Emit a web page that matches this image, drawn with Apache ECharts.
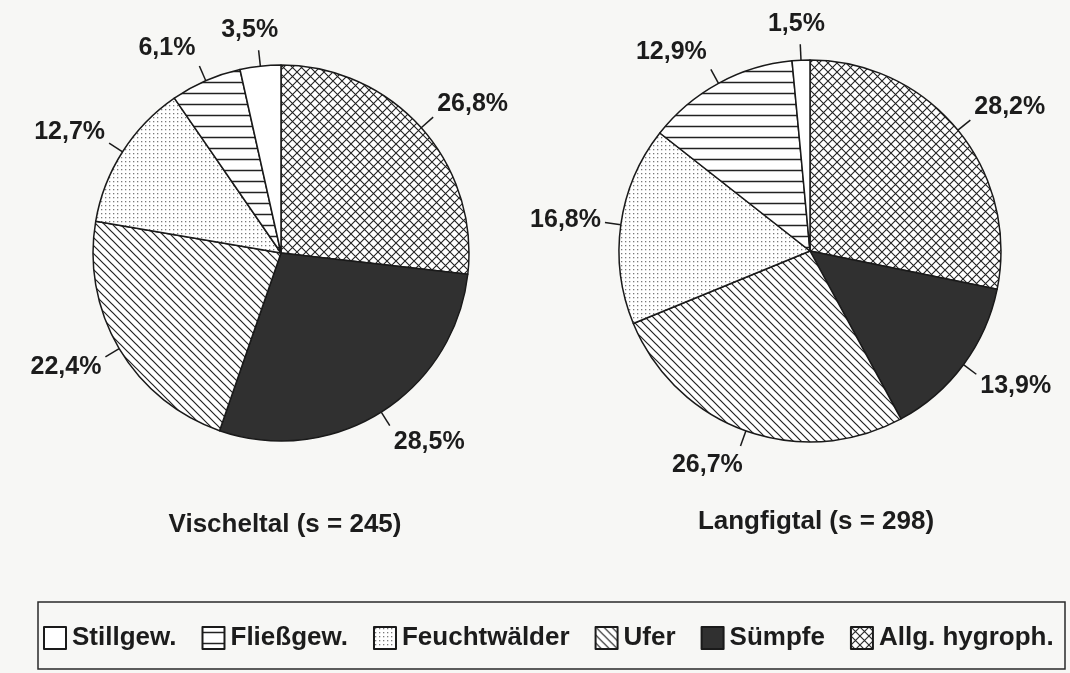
<!DOCTYPE html>
<html>
<head>
<meta charset="utf-8">
<script src="https://cdn.jsdelivr.net/npm/echarts@6/dist/echarts.min.js"></script>
<style>
  html, body { margin: 0; padding: 0; background: #f7f7f5; }
  #main { width: 1070px; height: 673px; }
</style>
</head>
<body>
<div id="main"></div>
<script>
// slices, clockwise from 12 o'clock
var categories = ['Allg. hygroph.', 'Sümpfe', 'Ufer', 'Feuchtwälder', 'Fließgew.', 'Stillgew.'];
var vischeltal = [26.8, 28.5, 22.4, 12.7, 6.1, 3.5];
var langfigtal = [28.2, 13.9, 26.7, 16.8, 12.9, 1.5];
var titles = ['Vischeltal (s = 245)', 'Langfigtal (s = 298)'];
var legendOrder = ['Stillgew.', 'Fließgew.', 'Feuchtwälder', 'Ufer', 'Sümpfe', 'Allg. hygroph.'];

var FONT = '"Liberation Sans", Arial, Helvetica, sans-serif';
var INK = '#1c1c1c';

// hatch fills drawn on small canvases
function tile(w, h, draw) {
  var c = document.createElement('canvas');
  c.width = w; c.height = h;
  var ctx = c.getContext('2d');
  ctx.fillStyle = '#ffffff';
  ctx.fillRect(0, 0, w, h);
  draw(ctx);
  return { image: c, repeat: 'repeat' };
}

var fills = {
  'Allg. hygroph.': tile(9, 9, function (ctx) {
    ctx.strokeStyle = '#222'; ctx.lineWidth = 1.1;
    ctx.beginPath();
    ctx.moveTo(0, 0); ctx.lineTo(9, 9);
    ctx.moveTo(9, 0); ctx.lineTo(0, 9);
    ctx.stroke();
  }),
  'Sümpfe': '#303030',
  'Ufer': tile(8, 8, function (ctx) {
    ctx.strokeStyle = '#222'; ctx.lineWidth = 1.2;
    ctx.beginPath();
    ctx.moveTo(-1, -1); ctx.lineTo(9, 9);
    ctx.moveTo(-1, 7); ctx.lineTo(1, 9);
    ctx.moveTo(7, -1); ctx.lineTo(9, 1);
    ctx.stroke();
  }),
  'Feuchtwälder': tile(4, 4, function (ctx) {
    ctx.fillStyle = '#7a7a7a';
    ctx.fillRect(1, 1, 1.3, 1.3);
  }),
  'Fließgew.': tile(10, 11, function (ctx) {
    ctx.strokeStyle = '#222'; ctx.lineWidth = 1.5;
    ctx.beginPath();
    ctx.moveTo(0, 5.5); ctx.lineTo(10, 5.5);
    ctx.stroke();
  }),
  'Stillgew.': '#ffffff'
};

function fmt(v) {
  return v.toFixed(1).replace('.', ',') + '%';
}

// put each label beyond the end of its radial leader line
function placeLabel(p) {
  var pts = p.labelLinePoints;
  if (!pts) return {};
  var a = pts[0], b = pts[1];
  var dx = b[0] - a[0], dy = b[1] - a[1];
  var len = Math.sqrt(dx * dx + dy * dy) || 1;
  dx /= len; dy /= len;
  var w = p.labelRect.width;
  var kx = Math.max(-1, Math.min(1, dx * 2.5));
  return {
    x: b[0] + kx * (w / 2 + 4),
    y: b[1] + dy * 20,
    align: 'center',
    verticalAlign: 'middle',
    labelLinePoints: pts
  };
}

function pieSeries(values, center, radius) {
  return {
    type: 'pie',
    center: center,
    radius: radius,
    startAngle: 90,
    clockwise: true,
    avoidLabelOverlap: false,
    silent: true,
    animation: false,
    itemStyle: { borderColor: '#1a1a1a', borderWidth: 1.5 },
    label: {
      show: true,
      position: 'outside',
      formatter: function (p) { return fmt(p.value); },
      fontFamily: FONT,
      fontWeight: 'bold',
      fontSize: 25,
      color: INK
    },
    labelLine: {
      show: true,
      length: 16,
      length2: 0,
      lineStyle: { color: '#1a1a1a', width: 1.5 }
    },
    labelLayout: placeLabel,
    data: categories.map(function (name, i) {
      return { name: name, value: values[i], itemStyle: { color: fills[name] } };
    })
  };
}

var myChart = echarts.init(document.getElementById('main'), null, { renderer: 'canvas' });

var option = {
  backgroundColor: '#f7f7f5',
  legend: {
    data: legendOrder,
    left: 43,
    top: 625,
    padding: 0,
    itemWidth: 22,
    itemHeight: 22,
    itemGap: 25,
    icon: 'rect',
    selectedMode: false,
    textStyle: { fontFamily: FONT, fontWeight: 'bold', fontSize: 26, color: INK, padding: [0, 0, 0, 1] }
  },
  graphic: [
    {
      type: 'rect',
      shape: { x: 38, y: 602, width: 1027, height: 67 },
      style: { fill: null, stroke: '#2a2a2a', lineWidth: 1.5 },
      silent: true
    },
    {
      type: 'text', x: 285, y: 525,
      style: { text: titles[0], font: 'bold 26px ' + FONT, fill: INK, align: 'center', verticalAlign: 'middle' }
    },
    {
      type: 'text', x: 816, y: 522,
      style: { text: titles[1], font: 'bold 26px ' + FONT, fill: INK, align: 'center', verticalAlign: 'middle' }
    }
  ],
  series: [
    pieSeries(vischeltal, [281, 253], 188),
    pieSeries(langfigtal, [810, 251], 191)
  ]
};

myChart.setOption(option);
</script>
</body>
</html>
